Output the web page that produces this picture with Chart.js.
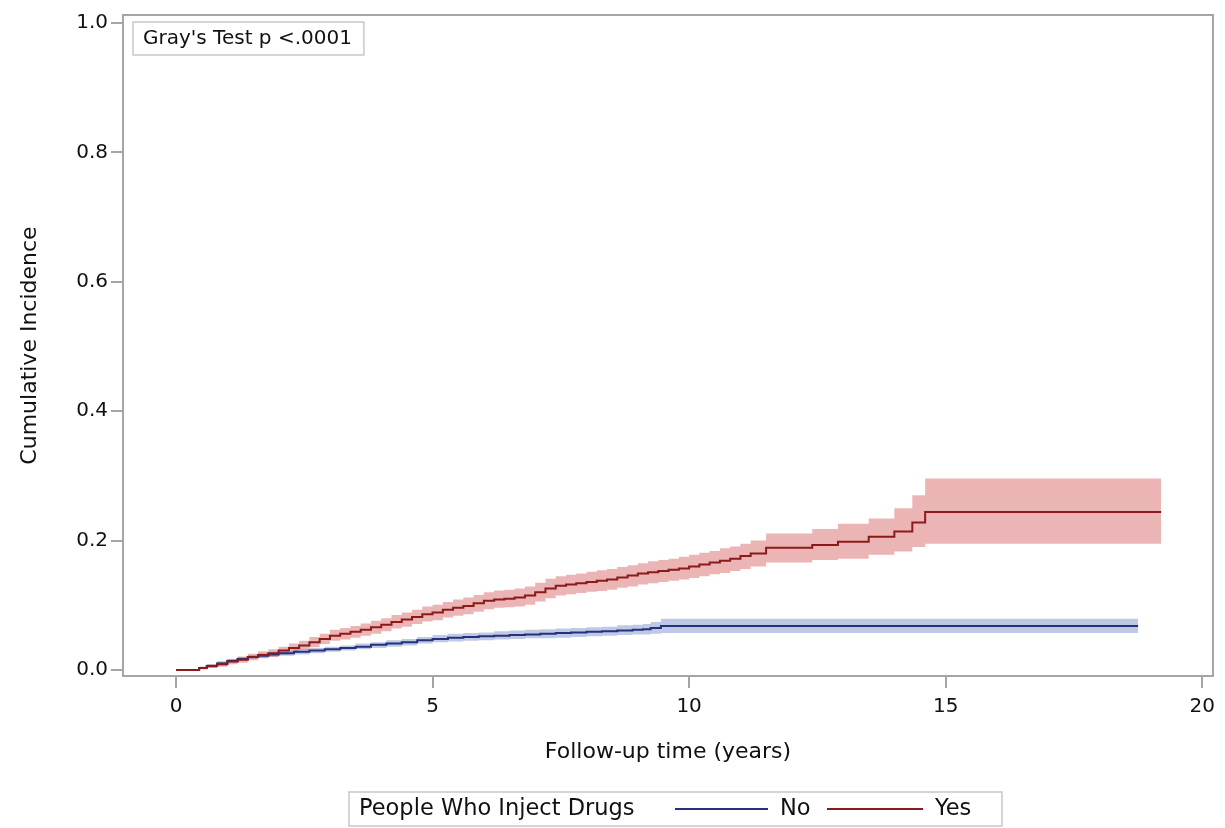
<!DOCTYPE html>
<html>
<head>
<meta charset="utf-8">
<script src="https://cdn.jsdelivr.net/npm/chart.js@4.4.1/dist/chart.umd.min.js"></script>
<style>
  html, body { margin: 0; padding: 0; background: #fff; }
  #wrap { width: 1225px; height: 828px; }
</style>
</head>
<body>
<div id="wrap"><canvas id="cifChart" width="1225" height="828"></canvas></div>
<script>
// PWID = Yes
const yesTime = [0, 0.45, 0.6, 0.8, 1.0, 1.2, 1.4, 1.6, 1.8, 2.0, 2.2, 2.4, 2.6, 2.8, 3.0, 3.2, 3.4, 3.6, 3.8, 4.0, 4.2, 4.4, 4.6, 4.8, 5.0, 5.2, 5.4, 5.6, 5.8, 6.0, 6.2, 6.4, 6.6, 6.8, 7.0, 7.2, 7.4, 7.6, 7.8, 8.0, 8.2, 8.4, 8.6, 8.8, 9.0, 9.2, 9.4, 9.6, 9.8, 10.0, 10.2, 10.4, 10.6, 10.8, 11.0, 11.2, 11.5, 12.4, 12.9, 13.5, 14.0, 14.35, 14.6, 19.2];
const yesEst = [0, 0.003, 0.006, 0.009, 0.013, 0.016, 0.020, 0.023, 0.026, 0.030, 0.034, 0.038, 0.043, 0.048, 0.053, 0.056, 0.059, 0.062, 0.066, 0.070, 0.074, 0.078, 0.082, 0.086, 0.089, 0.093, 0.096, 0.099, 0.103, 0.107, 0.109, 0.110, 0.112, 0.115, 0.120, 0.126, 0.130, 0.132, 0.134, 0.136, 0.138, 0.140, 0.143, 0.146, 0.149, 0.151, 0.153, 0.155, 0.157, 0.160, 0.163, 0.166, 0.169, 0.172, 0.176, 0.180, 0.189, 0.193, 0.198, 0.206, 0.214, 0.228, 0.244, 0.244];
const yesLower = [0, 0.001, 0.003, 0.005, 0.009, 0.011, 0.015, 0.018, 0.020, 0.024, 0.027, 0.031, 0.035, 0.040, 0.045, 0.047, 0.050, 0.053, 0.056, 0.060, 0.064, 0.067, 0.071, 0.075, 0.077, 0.081, 0.084, 0.086, 0.090, 0.094, 0.096, 0.097, 0.098, 0.101, 0.106, 0.111, 0.115, 0.117, 0.119, 0.121, 0.122, 0.124, 0.127, 0.129, 0.132, 0.134, 0.136, 0.138, 0.140, 0.142, 0.145, 0.148, 0.150, 0.153, 0.156, 0.160, 0.166, 0.170, 0.172, 0.178, 0.183, 0.190, 0.195, 0.195];
const yesUpper = [0, 0.005, 0.009, 0.013, 0.017, 0.021, 0.025, 0.029, 0.032, 0.036, 0.041, 0.045, 0.051, 0.056, 0.062, 0.065, 0.068, 0.072, 0.076, 0.080, 0.085, 0.089, 0.093, 0.098, 0.101, 0.105, 0.109, 0.112, 0.116, 0.120, 0.123, 0.124, 0.126, 0.129, 0.135, 0.141, 0.145, 0.147, 0.149, 0.152, 0.154, 0.156, 0.159, 0.162, 0.165, 0.168, 0.170, 0.172, 0.175, 0.178, 0.181, 0.184, 0.188, 0.191, 0.195, 0.200, 0.211, 0.218, 0.226, 0.234, 0.250, 0.270, 0.296, 0.296];

// PWID = No
const noTime = [0, 0.45, 0.6, 0.8, 1.0, 1.2, 1.4, 1.6, 1.8, 2.0, 2.3, 2.6, 2.9, 3.2, 3.5, 3.8, 4.1, 4.4, 4.7, 5.0, 5.3, 5.6, 5.9, 6.2, 6.5, 6.8, 7.1, 7.4, 7.7, 8.0, 8.3, 8.6, 8.9, 9.1, 9.25, 9.45, 18.75];
const noEst = [0, 0.003, 0.006, 0.010, 0.014, 0.017, 0.020, 0.022, 0.024, 0.026, 0.028, 0.030, 0.032, 0.034, 0.036, 0.039, 0.041, 0.043, 0.046, 0.048, 0.050, 0.051, 0.052, 0.053, 0.054, 0.055, 0.056, 0.057, 0.058, 0.059, 0.060, 0.061, 0.062, 0.063, 0.065, 0.068, 0.068];
const noLower = [0, 0.001, 0.003, 0.007, 0.011, 0.014, 0.017, 0.019, 0.021, 0.022, 0.024, 0.026, 0.028, 0.030, 0.032, 0.034, 0.036, 0.038, 0.041, 0.043, 0.044, 0.045, 0.046, 0.047, 0.048, 0.049, 0.049, 0.050, 0.051, 0.052, 0.053, 0.054, 0.055, 0.055, 0.056, 0.057, 0.057];
const noUpper = [0, 0.005, 0.009, 0.013, 0.017, 0.020, 0.023, 0.026, 0.028, 0.030, 0.032, 0.034, 0.036, 0.038, 0.041, 0.043, 0.046, 0.048, 0.051, 0.054, 0.056, 0.057, 0.058, 0.060, 0.061, 0.062, 0.063, 0.064, 0.065, 0.066, 0.067, 0.069, 0.070, 0.071, 0.074, 0.079, 0.079];

const xTicks = [0, 5, 10, 15, 20];
const yTicks = [0, 0.2, 0.4, 0.6, 0.8, 1.0];
const legendTitle = "People Who Inject Drugs";
const testLabel = "Gray's Test p <.0001";

const FONT = "'DejaVu Sans', sans-serif";
const FRAME_COLOR = "#a2a6a9";

function toPoints(times, values) {
  return times.map(function (t, i) {
    return { x: t, y: values[i] };
  });
}

function bandSet(times, values, color, fillTarget, order) {
  return {
    data: toPoints(times, values),
    stepped: "before",
    borderWidth: 0,
    pointRadius: 0,
    backgroundColor: color,
    fill: fillTarget,
    order: order,
  };
}

const extrasPlugin = {
  id: "extras",
  afterDatasetsDraw(chart) {
    const ctx = chart.ctx;
    const a = chart.chartArea;
    ctx.save();
    // frame round the plot
    ctx.strokeStyle = FRAME_COLOR;
    ctx.lineWidth = 2;
    ctx.strokeRect(a.left, a.top, a.right - a.left, a.bottom - a.top);

    // test box
    ctx.font = "20px " + FONT;
    ctx.textBaseline = "middle";
    ctx.fillStyle = "#111";
    let w = ctx.measureText(testLabel).width;
    ctx.strokeStyle = "#c8c8c8";
    ctx.lineWidth = 1.5;
    ctx.strokeRect(133, 22, w + 22, 33);
    ctx.fillText(testLabel, 143, 39);

    // legend
    let ds = chart.data.datasets;
    let lineNo = ds.find(d => d.label == "No");
    let lineYes = ds.find(d => d.label == "Yes");
    ctx.font = "22.5px " + FONT;
    ctx.strokeStyle = "#c8c8c8";
    ctx.strokeRect(349, 792, 653, 34);
    ctx.fillText(legendTitle, 359, 809);
    ctx.lineWidth = 2;
    ctx.strokeStyle = lineNo.borderColor;
    ctx.beginPath(); ctx.moveTo(675, 809); ctx.lineTo(768, 809); ctx.stroke();
    ctx.fillText("No", 780, 809);
    ctx.strokeStyle = lineYes.borderColor;
    ctx.beginPath(); ctx.moveTo(827, 809); ctx.lineTo(923, 809); ctx.stroke();
    ctx.fillText("Yes", 935, 809);
    ctx.restore();
  },
};

const CHART = document.getElementById("cifChart");

let cifChart = new Chart(CHART, {
  type: "line",
  data: {
    datasets: [
      bandSet(yesTime, yesLower, "rgba(212,92,92,0.45)", false, 5),
      bandSet(yesTime, yesUpper, "rgba(212,92,92,0.45)", { target: 0 }, 4),
      bandSet(noTime, noLower, "rgba(95,120,190,0.4)", false, 3),
      bandSet(noTime, noUpper, "rgba(95,120,190,0.4)", { target: 2 }, 2),
      {
        label: "No",
        data: toPoints(noTime, noEst),
        stepped: "before",
        borderColor: "#25327a",
        borderWidth: 2,
        pointRadius: 0,
        fill: false,
        order: 1,
      },
      {
        label: "Yes",
        data: toPoints(yesTime, yesEst),
        stepped: "before",
        borderColor: "#8c1a1a",
        borderWidth: 2,
        pointRadius: 0,
        fill: false,
        order: 0,
      },
    ],
  },
  options: {
    responsive: false,
    animation: false,
    layout: { padding: { top: 13, right: 12, left: 0, bottom: 0 } },
    plugins: {
      legend: { display: false },
      tooltip: { enabled: false },
    },
    scales: {
      x: {
        type: "linear",
        min: -1.033,
        max: 20.21,
        afterBuildTicks: (scale) => { scale.ticks = xTicks.map(v => ({ value: v })); },
        afterFit: (scale) => { scale.height = 152; },
        grid: { drawOnChartArea: false, drawTicks: true, tickLength: 12, color: FRAME_COLOR, lineWidth: 2 },
        border: { display: false },
        ticks: { color: "#111", padding: 7, maxRotation: 0, font: { family: FONT, size: 20 } },
        title: {
          display: true,
          text: "Follow-up time (years)",
          color: "#111",
          font: { family: FONT, size: 22 },
          padding: { top: 0, bottom: 63 },
        },
      },
      y: {
        min: -0.0093,
        max: 1.0123,
        afterBuildTicks: (scale) => { scale.ticks = yTicks.map(v => ({ value: v })); },
        afterFit: (scale) => { scale.width = 123; },
        grid: { drawOnChartArea: false, drawTicks: true, tickLength: 12, color: FRAME_COLOR, lineWidth: 2 },
        border: { display: false },
        ticks: {
          color: "#111",
          padding: 3,
          font: { family: FONT, size: 20 },
          callback: (v) => Number(v).toFixed(1),
        },
        title: {
          display: true,
          text: "Cumulative Incidence",
          color: "#111",
          font: { family: FONT, size: 22 },
          padding: { top: 17, bottom: 0 },
        },
      },
    },
  },
  plugins: [extrasPlugin],
});
</script>
</body>
</html>
